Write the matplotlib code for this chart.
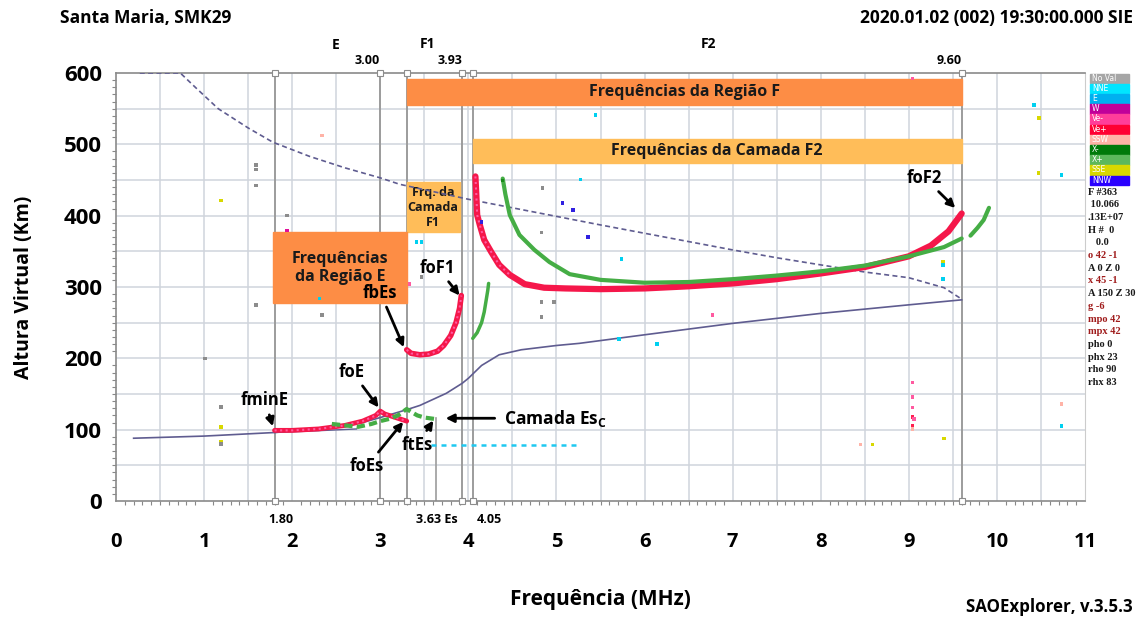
import matplotlib.pyplot as plt
from matplotlib.patches import Rectangle
from matplotlib.ticker import MultipleLocator
import numpy as np

plt.rcParams['font.family'] = ['Open Sans', 'DejaVu Sans']
plt.rcParams['mathtext.fontset'] = 'custom'
plt.rcParams['mathtext.rm'] = 'Open Sans'
plt.rcParams['mathtext.bf'] = 'Open Sans:bold'

# traço O da camada F2
f2_o_freq = [4.08, 4.09, 4.10, 4.13, 4.18, 4.26, 4.35, 4.47, 4.64, 4.86, 5.1, 5.5,
             6.0, 6.5, 7.0, 7.5, 8.0, 8.5, 9.0, 9.25, 9.45, 9.57, 9.60]
f2_o_alt = [455, 430, 401, 387, 366, 349, 331, 317, 304, 299, 298, 297,
            298, 301, 305, 311, 319, 328, 343, 358, 378, 398, 403]

# traço X da camada F2
f2_x_freq = [4.39, 4.42, 4.47, 4.58, 4.75, 4.92, 5.15, 5.5, 6.0, 6.5, 7.0, 7.5,
             8.0, 8.5, 9.0, 9.4, 9.6]
f2_x_alt = [452, 430, 401, 373, 352, 335, 318, 310, 306, 307, 311, 316,
            322, 330, 343, 356, 368]
f2_x2_freq = [9.70, 9.78, 9.85, 9.91]
f2_x2_alt = [372, 383, 394, 411]

# F1 / fbEs
f1_o_freq = [3.30, 3.35, 3.45, 3.55, 3.65, 3.72, 3.80, 3.86, 3.90, 3.92]
f1_o_alt = [212, 207, 205, 206, 210, 218, 232, 250, 270, 288]
f1_x_freq = [4.05, 4.10, 4.15, 4.18, 4.20, 4.22, 4.23]
f1_x_alt = [228, 236, 250, 265, 280, 295, 305]

# camada E / Es
e_o_freq = [1.80, 2.0, 2.3, 2.6, 2.8, 2.95, 3.0, 3.05, 3.15, 3.25, 3.30]
e_o_alt = [99, 99, 101, 106, 112, 120, 126, 122, 118, 114, 112]
es_x_freq = [2.45, 2.6, 2.75, 2.9, 3.0, 3.1, 3.2, 3.3, 3.35, 3.42, 3.5, 3.62]
es_x_alt = [108, 106, 104, 108, 112, 115, 120, 129, 125, 120, 117, 115]

# perfil de densidade (altura real) e curva tracejada
prof_freq = [0.2, 1.0, 1.8, 2.4, 2.8, 3.0, 3.3, 3.45, 3.75, 3.93, 4.0, 4.15, 4.35,
             4.6, 5.0, 5.26, 6.0, 7.0, 8.0, 9.0, 9.6]
prof_alt = [88, 91, 96, 103, 110, 117, 128, 134, 151, 165, 172, 190, 205,
            212, 218, 221, 233, 249, 263, 275, 282]
low_freq = [1.8, 2.2, 2.73]
low_alt = [96, 98, 101]
dash_freq = [0.27, 0.73, 0.9, 1.16, 1.5, 1.78, 2.2, 2.6, 3.0, 3.22, 4.0, 5.5,
             7.0, 7.5, 8.5, 9.0, 9.4, 9.6]
dash_alt = [600, 600, 580, 550, 523, 503, 483, 467, 453, 444, 423, 387,
            352, 341, 321, 313, 299, 283]

# eco espúrio em ~80 km
cyan_freq = [3.58, 4.0, 4.4, 4.8, 5.23]
cyan_alt = [79, 79, 79, 79, 79]

# pontos isolados (freq, alt, cor)
scatter_pts = [
    (1.19, 132, '#8c8c8c'), (1.19, 104, '#d8d800'), (1.19, 83, '#d8d800'),
    (1.19, 80, '#8c8c8c'), (1.59, 471, '#8c8c8c'), (1.59, 465, '#8c8c8c'),
    (1.59, 442, '#8c8c8c'), (1.19, 421, '#d8d800'), (2.34, 512, '#ffb3a7'),
    (1.94, 400, '#8c8c8c'), (1.94, 379, '#e0109a'), (1.01, 200, '#8c8c8c'),
    (1.59, 275, '#8c8c8c'), (2.31, 284, '#00d0f0'), (2.34, 261, '#8c8c8c'),
    (3.41, 363, '#00d0f0'), (3.47, 363, '#00d0f0'), (4.84, 439, '#8c8c8c'),
    (5.07, 418, '#3020e0'), (5.19, 408, '#3020e0'), (5.27, 451, '#00d0f0'),
    (5.36, 370, '#3020e0'), (4.15, 391, '#3020e0'), (4.83, 376, '#8c8c8c'),
    (4.83, 279, '#8c8c8c'), (4.97, 279, '#8c8c8c'), (4.83, 258, '#8c8c8c'),
    (4.39, 449, '#1a8a1a'), (3.33, 304, '#ff5aa0'), (3.47, 314, '#8c8c8c'),
    (5.44, 541, '#00d0f0'), (9.04, 592, '#ff5aa0'), (10.47, 460, '#d8d800'),
    (10.73, 457, '#00d0f0'), (9.04, 166, '#ff5aa0'), (9.04, 146, '#ff5aa0'),
    (9.04, 131, '#ff5aa0'), (9.04, 118, '#ff1f4f'), (9.06, 115, '#ff5aa0'),
    (9.04, 106, '#ff1f4f'), (9.04, 101, '#ffb3a7'), (8.59, 79, '#d8d800'),
    (8.45, 79, '#ffb3a7'), (9.40, 88, '#d8d800'), (10.73, 136, '#ffb3a7'),
    (10.73, 105, '#00d0f0'), (5.74, 339, '#00d0f0'), (6.77, 261, '#ff5aa0'),
    (6.14, 220, '#00d0f0'), (5.71, 227, '#00d0f0'), (9.39, 331, '#00d0f0'),
    (9.39, 336, '#d8d800'), (9.39, 311, '#00d0f0'), (10.42, 555, '#00d0f0'),
    (10.48, 537, '#d8d800'),
]

# linhas de marcação das frequências críticas
marker_freqs = [1.80, 3.00, 3.30, 3.93, 4.05, 9.60]

legend_labels = ['No Val', 'NNE', 'E', 'W', 'Ve-', 'Ve+', 'SSW', 'X-', 'X+', 'SSE', 'NNW']
legend_colors = ['#a6a6a6', '#00e5ff', '#00b0f0', '#c0009a', '#ff3e9a', '#ff0033',
                 '#ffb3a7', '#007a0a', '#5cb85c', '#d8d800', '#2a00ff']
info_lines = ['F #363', ' 10.066', '.13E+07', 'H #  0', '   0.0', 'o 42 -1', 'A 0 Z 0',
              'x 45 -1', 'A 150 Z 30', 'g -6', 'mpo 42', 'mpx 42', 'pho 0', 'phx 23',
              'rho 90', 'rhx 83']
info_red = {'o 42 -1', 'x 45 -1', 'g -6', 'mpo 42', 'mpx 42'}

fig = plt.figure(figsize=(11.42, 6.19), dpi=100)
ax = fig.add_axes([116 / 1142, 1 - 501 / 619, (1085 - 116) / 1142, (501 - 73) / 619])
ax.set_xlim(0, 11)
ax.set_ylim(0, 600)

grid_c = '#d0d4dc'
for gx in np.arange(0.5, 11, 0.5):
    ax.axvline(gx, color=grid_c, lw=1.1, zorder=0)
for gy in np.arange(50, 600, 50):
    ax.axhline(gy, color=grid_c, lw=1.1, zorder=0)

for mf in marker_freqs:
    ax.axvline(mf, color='#9c9c9c', lw=1.4, zorder=1)
    ax.plot([mf, mf], [600, 0], ls='none', marker='s', ms=4, mfc='white',
            mec='#8c8c8c', mew=0.8, clip_on=False, zorder=6)
ax.plot([3.63, 3.63], [0, 116], color='#9c9c9c', lw=1.2, zorder=1)

# caixas das regiões
ax.add_patch(Rectangle((3.30, 555), 6.30, 37, color='#fd8d45', zorder=2))
ax.text(6.45, 573.5, 'Frequências da Região F', ha='center', va='center',
        fontsize=11.5, fontweight='bold', color='#1a1a1a', zorder=3)
ax.add_patch(Rectangle((4.05, 474), 5.55, 33, color='#ffbd59', zorder=2))
ax.text(6.825, 490.5, 'Frequências da Camada F2', ha='center', va='center',
        fontsize=11.5, fontweight='bold', color='#1a1a1a', zorder=3)
ax.add_patch(Rectangle((3.30, 377), 0.60, 70, color='#ffbd59', zorder=2))
ax.text(3.60, 412, 'Frq. da\nCamada\nF1', ha='center', va='center',
        fontsize=9, fontweight='bold', color='#1a1a1a', linespacing=1.2, zorder=3)
ax.add_patch(Rectangle((1.78, 277), 1.52, 100, color='#fd8d45', zorder=2))
ax.text(2.54, 327, 'Frequências\nda Região E', ha='center', va='center',
        fontsize=11.5, fontweight='bold', color='#1a1a1a', linespacing=1.2, zorder=3)

# curvas do perfil
line_c = '#5f5c90'
ax.plot(dash_freq, dash_alt, color=line_c, lw=1.2, ls=(0, (3, 2)), zorder=4)
ax.plot(prof_freq, prof_alt, color=line_c, lw=1.2, zorder=4)
ax.plot(low_freq, low_alt, color=line_c, lw=1.0, zorder=4)

# traços dos ecos
red = '#f5174a'
green = '#45ad45'
ax.plot(f2_o_freq, f2_o_alt, color=red, lw=4.5, solid_capstyle='round', zorder=5)
ax.plot(f2_o_freq[:8], f2_o_alt[:8], color='#ff5aa0', lw=1.5, ls=':', zorder=5)
ax.plot(f2_x_freq, f2_x_alt, color=green, lw=3, solid_capstyle='round', zorder=5)
ax.plot(f2_x2_freq, f2_x2_alt, color=green, lw=3, solid_capstyle='round', zorder=5)
ax.plot(f1_o_freq, f1_o_alt, color=red, lw=4, solid_capstyle='round', zorder=5)
ax.plot(f1_o_freq, f1_o_alt, color='#ff5aa0', lw=1.5, ls=':', zorder=5)
ax.plot(f1_x_freq, f1_x_alt, color=green, lw=2.5, solid_capstyle='round', zorder=5)
ax.plot(e_o_freq, e_o_alt, color=red, lw=3.5, solid_capstyle='round', zorder=5)
ax.plot(e_o_freq, e_o_alt, color='#ff5aa0', lw=1.5, ls=':', zorder=5)
ax.plot(es_x_freq, es_x_alt, color=green, lw=3, ls=(0, (2, 1)), zorder=5)
ax.plot(cyan_freq, cyan_alt, color='#1ec8f0', lw=1.8, ls=(0, (2, 2)), zorder=5)

sx = [p[0] for p in scatter_pts]
sy = [p[1] for p in scatter_pts]
sc = [p[2] for p in scatter_pts]
ax.scatter(sx, sy, c=sc, s=6, marker='s', linewidths=0, zorder=5)

# anotações
arrow = dict(arrowstyle='-|>', color='black', lw=2, mutation_scale=12)
notes = [
    ('fminE', (1.79, 101), (1.69, 141)),
    ('foE', (3.00, 128), (2.68, 181)),
    ('fbEs', (3.28, 212), (3.00, 292)),
    ('foF1', (3.92, 285), (3.65, 327)),
    ('foF2', (9.55, 408), (9.18, 453)),
    ('foEs', (3.28, 114), (2.85, 49)),
    ('ftEs', (3.62, 116), (3.42, 79)),
]
for label, head, txt in notes:
    ax.annotate(label, xy=head, xytext=txt, ha='center', va='center',
                fontsize=12, fontweight='bold', arrowprops=arrow, zorder=7)
ax.annotate('', xy=(3.71, 116), xytext=(4.33, 116), arrowprops=arrow, zorder=7)
ax.text(4.41, 116, r'Camada Es$_\mathbf{C}$', ha='left', va='center',
        fontsize=12.5, fontweight='bold', zorder=7)

# rótulos acima do gráfico
top_labels = [('E', 2.49, 'center', 20), ('3.00', 3.00, 'right', 9), ('F1', 3.54, 'center', 21),
              ('3.93', 3.93, 'right', 9), ('F2', 6.73, 'center', 21), ('9.60', 9.60, 'right', 9)]
for txt, xf, ha, dy in top_labels:
    ax.annotate(txt, xy=(xf, 600), xytext=(0, dy), textcoords='offset points',
                ha=ha, va='center', fontsize=9 if dy < 15 else 10, fontweight='bold',
                annotation_clip=False)
bottom_labels = [('1.80', 1.87), ('3.63 Es', 3.64), ('4.05', 4.24)]
for txt, xf in bottom_labels:
    ax.annotate(txt, xy=(xf, 0), xytext=(0, -13), textcoords='offset points',
                ha='center', va='center', fontsize=9, fontweight='bold',
                annotation_clip=False)

ax.set_xticks(range(0, 12))
ax.set_yticks(range(0, 601, 100))
ax.xaxis.set_minor_locator(MultipleLocator(0.1))
ax.yaxis.set_minor_locator(MultipleLocator(10))
ax.tick_params(axis='both', which='major', length=0, labelsize=14.5)
ax.tick_params(axis='x', which='major', pad=22)
ax.tick_params(axis='y', which='major', pad=10, labelsize=16)
ax.tick_params(axis='both', which='minor', length=3, color='#888888', width=0.8)
for lab in ax.get_xticklabels() + ax.get_yticklabels():
    lab.set_fontweight('bold')
for side in ['left', 'bottom', 'top']:
    ax.spines[side].set_color('#8a8a8a')
    ax.spines[side].set_linewidth(1.2)
ax.spines['right'].set_color('#cccccc')

ax.set_xlabel('Frequência (MHz)', fontsize=15, fontweight='bold', labelpad=27)
ax.set_ylabel('Altura Virtual (Km)', fontsize=14, fontweight='bold', labelpad=22)

fig.text(60 / 1142, 1 - 18 / 619, 'Santa Maria, SMK29', ha='left', va='center',
         fontsize=12.5, fontweight='bold')
fig.text(1133 / 1142, 1 - 18 / 619, '2020.01.02 (002) 19:30:00.000 SIE', ha='right',
         va='center', fontsize=12.5, fontweight='bold')
fig.text(1133 / 1142, 1 - 607 / 619, 'SAOExplorer, v.3.5.3', ha='right', va='center',
         fontsize=12.2, fontweight='bold')

# legenda de direções e parâmetros à direita
row_h = 10.2
for i, (lab, col) in enumerate(zip(legend_labels, legend_colors)):
    y0 = 73 + i * row_h
    fig.patches.append(Rectangle((1090 / 1142, 1 - (y0 + row_h) / 619), 39 / 1142,
                                 (row_h - 0.6) / 619, transform=fig.transFigure,
                                 color=col, zorder=3))
    fig.text(1092 / 1142, 1 - (y0 + row_h / 2) / 619, lab, ha='left', va='center',
             fontsize=5.5, color='white', family=['DejaVu Sans'])
for i, line in enumerate(info_lines):
    fig.text(1088 / 1142, 1 - (192 + i * 12.7) / 619, line, ha='left', va='center',
             fontsize=7.5, fontweight='bold', family=['Liberation Serif'],
             color='#a01c1c' if line in info_red else '#1a1a1a')

fig.savefig('out.png', dpi=100)
